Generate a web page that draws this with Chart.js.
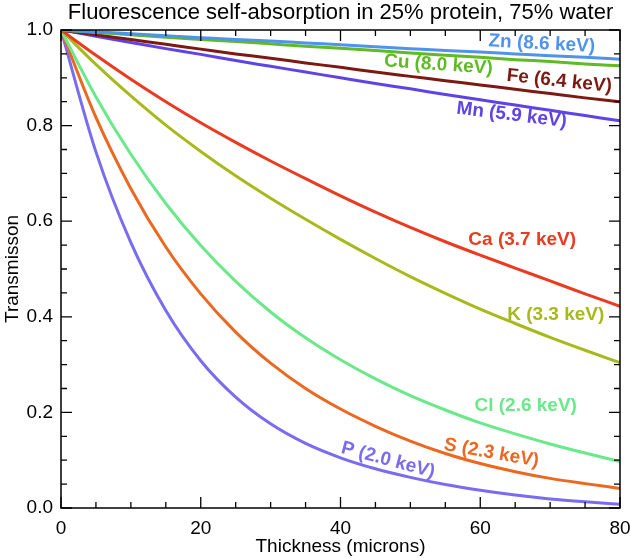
<!DOCTYPE html>
<html>
<head>
<meta charset="utf-8">
<script src="https://cdn.jsdelivr.net/npm/chart.js@4/dist/chart.umd.min.js"></script>
<style>
  html, body { margin: 0; padding: 0; background: #ffffff; }
  #wrap { width: 630px; height: 558px; position: relative; }
</style>
</head>
<body>
<div id="wrap"><canvas id="c" width="630" height="558"></canvas></div>
<script>
// ---- data ----
const chartTitle = "Fluorescence self-absorption in 25% protein, 75% water";
const xTitle = "Thickness (microns)";
const yTitle = "Transmisson";
const thickness = [0, 5, 10, 15, 20, 25, 30, 35, 40, 45, 50, 55, 60, 65, 70, 75, 80];
const seriesNames = ["Zn (8.6 keV)", "Cu (8.0 keV)", "Fe (6.4 keV)", "Mn (5.9 keV)", "Ca (3.7 keV)", "K (3.3 keV)", "Cl (2.6 keV)", "S (2.3 keV)", "P (2.0 keV)"];
const zn = [1.000, 0.996, 0.992, 0.988, 0.984, 0.980, 0.977, 0.973, 0.969, 0.965, 0.961, 0.957, 0.954, 0.950, 0.946, 0.943, 0.939];
const cu = [1.000, 0.995, 0.990, 0.985, 0.980, 0.976, 0.971, 0.966, 0.962, 0.957, 0.952, 0.947, 0.943, 0.938, 0.934, 0.929, 0.925];
const fe = [1.000, 0.990, 0.980, 0.970, 0.960, 0.950, 0.941, 0.931, 0.922, 0.912, 0.903, 0.894, 0.885, 0.876, 0.867, 0.858, 0.850];
const mn = [1.000, 0.987, 0.974, 0.961, 0.949, 0.936, 0.924, 0.912, 0.900, 0.888, 0.877, 0.865, 0.854, 0.843, 0.832, 0.821, 0.810];
const ca = [1.000, 0.947, 0.897, 0.850, 0.806, 0.765, 0.726, 0.689, 0.653, 0.619, 0.587, 0.557, 0.529, 0.502, 0.475, 0.448, 0.422];
const kk = [1.000, 0.928, 0.862, 0.801, 0.746, 0.695, 0.648, 0.604, 0.562, 0.522, 0.484, 0.449, 0.416, 0.386, 0.357, 0.330, 0.304];
const cl = [1.000, 0.860, 0.740, 0.637, 0.549, 0.474, 0.410, 0.356, 0.310, 0.270, 0.235, 0.205, 0.178, 0.155, 0.134, 0.115, 0.097];
const ss = [1.000, 0.817, 0.668, 0.546, 0.448, 0.368, 0.303, 0.250, 0.207, 0.171, 0.140, 0.114, 0.093, 0.076, 0.062, 0.051, 0.041];
const pp = [1.000, 0.745, 0.555, 0.413, 0.308, 0.232, 0.176, 0.135, 0.105, 0.082, 0.064, 0.049, 0.037, 0.027, 0.019, 0.013, 0.008];
const seriesValues = [zn, cu, fe, mn, ca, kk, cl, ss, pp];

// ---- styles ----
const colors = ["#4f93ea", "#5fba25", "#7c1a12", "#5e44e6", "#ea3a1f", "#a8b91d", "#6be88a", "#eb6821", "#7a6cf0"];
// label anchors in data units (thickness, transmission) and rotation in degrees
const labelPos = [
  [68.8, 0.971, 3], [54.0, 0.927, 4], [71.3, 0.893, 6], [64.5, 0.822, 7],
  [66.0, 0.561, 0], [70.8, 0.404, 0], [66.5, 0.213, 0], [61.6, 0.115, 10], [46.8, 0.100, 15]
];
const FONT = "'Liberation Sans', Arial, Helvetica, sans-serif";

const datasets = seriesNames.map((name, i) => ({
  label: name,
  data: thickness.map((x, j) => ({ x: x, y: seriesValues[i][j] })),
  borderColor: colors[i],
  backgroundColor: colors[i],
  borderWidth: 3,
  pointRadius: 0,
  cubicInterpolationMode: 'monotone',
  fill: false
}));

const decorPlugin = {
  id: 'decor',
  afterDatasetsDraw(chart) {
    const ctx = chart.ctx;
    const a = chart.chartArea;
    const xs = chart.scales.x, ys = chart.scales.y;
    ctx.save();
    ctx.strokeStyle = '#000';
    ctx.lineWidth = 1.5;
    ctx.strokeRect(a.left, a.top, a.right - a.left, a.bottom - a.top);
    ctx.lineWidth = 1.3;
    ctx.beginPath();
    for (let v = 0; v <= 80 + 1e-9; v += 5) {
      const px = xs.getPixelForValue(v);
      const len = (v % 20 === 0) ? 11 : 6;
      ctx.moveTo(px, a.bottom); ctx.lineTo(px, a.bottom - len);
      ctx.moveTo(px, a.top); ctx.lineTo(px, a.top + len);
    }
    for (let i = 0; i <= 20; i++) {
      const v = i * 0.05;
      const py = ys.getPixelForValue(v);
      const len = (i % 4 === 0) ? 11 : 6;
      ctx.moveTo(a.left, py); ctx.lineTo(a.left + len, py);
      ctx.moveTo(a.right, py); ctx.lineTo(a.right - len, py);
    }
    ctx.stroke();

    // curve labels
    ctx.font = "bold 19px " + FONT;
    ctx.textAlign = 'center';
    ctx.textBaseline = 'middle';
    seriesNames.forEach((name, i) => {
      const [lx, ly, rot] = labelPos[i];
      const px = xs.getPixelForValue(lx), py = ys.getPixelForValue(ly);
      ctx.save();
      ctx.translate(px, py);
      ctx.rotate(rot * Math.PI / 180);
      ctx.fillStyle = colors[i];
      ctx.fillText(name, 0, 0);
      ctx.restore();
    });

    // chart title
    ctx.fillStyle = '#000';
    ctx.font = "22px " + FONT;
    ctx.textAlign = 'center';
    ctx.textBaseline = 'middle';
    ctx.fillText(chartTitle, (a.left + a.right) / 2, 13);
    ctx.restore();
  }
};

new Chart(document.getElementById('c'), {
  type: 'line',
  data: { datasets: datasets },
  options: {
    responsive: false,
    animation: false,
    devicePixelRatio: 1,
    layout: { padding: { left: 0, right: 0, top: 30, bottom: 0 } },
    plugins: { legend: { display: false }, tooltip: { enabled: false }, title: { display: false } },
    scales: {
      x: {
        type: 'linear', min: 0, max: 80,
        grid: { display: false, drawTicks: false },
        border: { display: false },
        ticks: { stepSize: 20, padding: 9, color: '#000', font: { family: FONT, size: 19 } },
        title: { display: true, text: xTitle, color: '#000', font: { family: FONT, size: 19 }, padding: { top: 0, bottom: 0 } },
        afterFit(s) { s.height = 50; s.paddingRight = 10; s.paddingLeft = 0; }
      },
      y: {
        type: 'linear', min: 0, max: 1,
        grid: { display: false, drawTicks: false },
        border: { display: false },
        ticks: { stepSize: 0.2, padding: 8, color: '#000', font: { family: FONT, size: 19 },
                 callback: (v) => Number(v).toFixed(1) },
        title: { display: true, text: yTitle, color: '#000', font: { family: FONT, size: 19 }, padding: { top: 1, bottom: 0 } },
        afterFit(s) { s.width = 61; }
      }
    }
  },
  plugins: [decorPlugin]
});
</script>
</body>
</html>
